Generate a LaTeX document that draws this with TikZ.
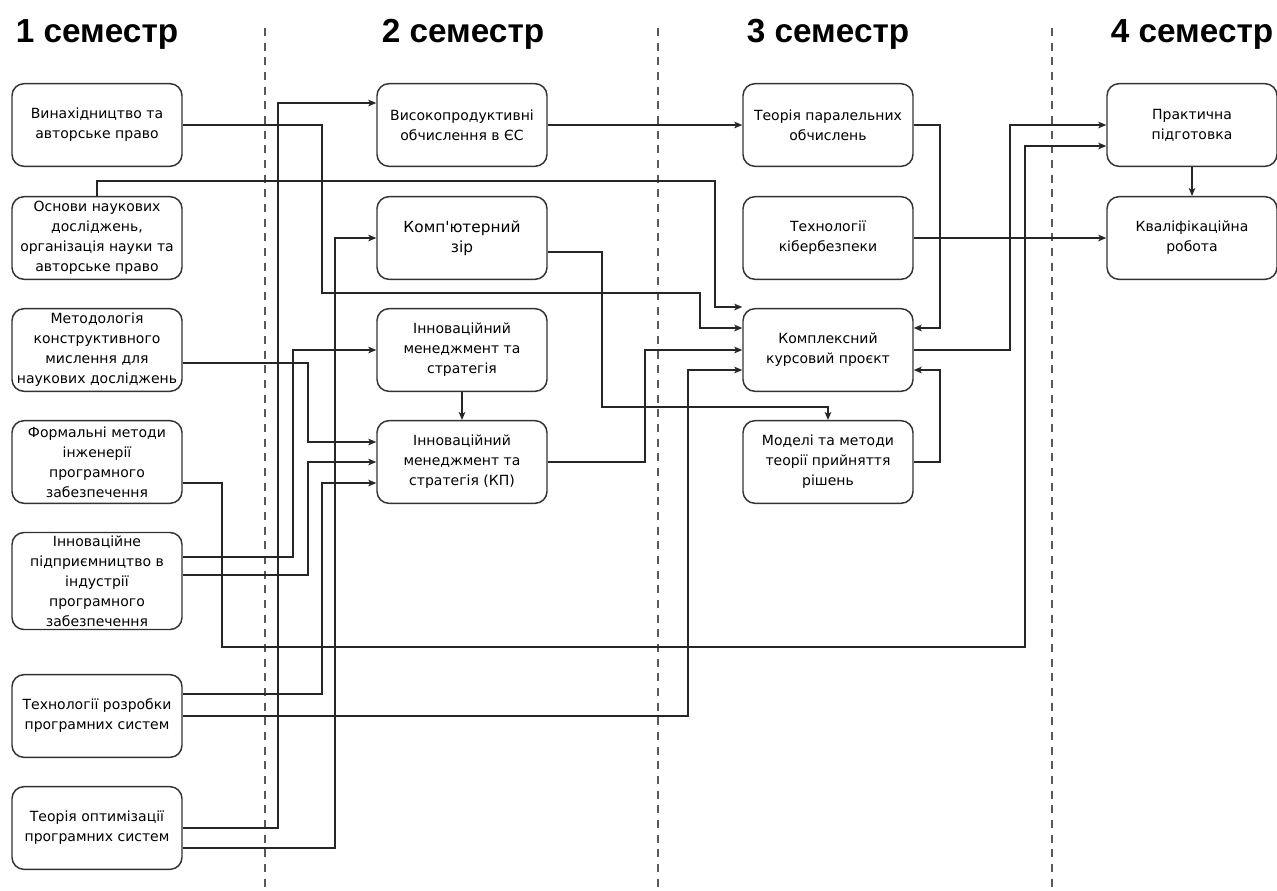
\documentclass[tikz,border=0pt]{standalone}
\usepackage{fontspec}
\setmainfont{Liberation Sans}
\newfontfamily\boxfont{DejaVu Sans}
\usetikzlibrary{arrows.meta,calc}

\begin{document}
\begin{tikzpicture}[x=0.75pt,y=-0.75pt,
    course/.style={draw=black!80, line width=1.1pt, rounded corners=9pt, fill=white,
      minimum width=127.5pt, minimum height=62pt, inner sep=1pt, align=center,
      font=\boxfont\fontsize{10.5}{15}\selectfont},
    termtitle/.style={font=\fontsize{25}{30}\selectfont\bfseries, anchor=base},
    prereq/.style={draw=black!85, line width=0.9pt, -{Stealth[length=6pt,width=5pt,inset=1.5pt]}},
    divider/.style={draw=black!65, line width=1pt, dash pattern=on 6pt off 5pt}]
\useasboundingbox (0,0) rectangle (1277,890);

% Semester borders
\foreach \x in {265,658,1052}
    \draw[divider] (\x,28) -- (\x,890);

% Titles
\node[termtitle] (t1) at (97,42) {1 семестр};
\node[termtitle] (t2) at (463,42) {2 семестр};
\node[termtitle] (t3) at (828,42) {3 семестр};
\node[termtitle] (t4) at (1192,42) {4 семестр};

% Semester 1
\node[course] (inv) at (97,125) {Винахідництво та\\авторське право};
\node[course] (osn) at (97,238) {Основи наукових\\досліджень,\\організація науки та\\авторське право};
\node[course] (met) at (97,350) {Методологія\\конструктивного\\мислення для\\наукових досліджень};
\node[course] (form) at (97,462) {Формальні методи\\інженерії\\програмного\\забезпечення};
\node[course, minimum height=72.75pt] (pidp) at (97,581) {Інноваційне\\підприємництво в\\індустрії\\програмного\\забезпечення};
\node[course] (trps) at (97,716) {Технології розробки\\програмних систем};
\node[course] (topt) at (97,828) {Теорія оптимізації\\програмних систем};

% Semester 2
\node[course] (hpc) at (462,125) {Високопродуктивні\\обчислення в ЄС};
\node[course, font=\boxfont\fontsize{11.5}{15}\selectfont] (cv) at (462,238) {Комп'ютерний\\зір};
\node[course] (imen) at (462,350) {Інноваційний\\менеджмент та\\стратегія};
\node[course] (imkp) at (462,462) {Інноваційний\\менеджмент та\\стратегія (КП)};

% Semester 3
\node[course] (par) at (828,125) {Теорія паралельних\\обчислень};
\node[course] (cyb) at (828,238) {Технології\\кібербезпеки};
\node[course] (kkp) at (828,350) {Комплексний\\курсовий проєкт};
\node[course] (dec) at (828,462) {Моделі та методи\\теорії прийняття\\рішень};

% Semester 4
\node[course] (prac) at (1192,125) {Практична\\підготовка};
\node[course] (qual) at (1192,238) {Кваліфікаційна\\робота};

% Links into semester 2
\draw[prereq] (topt.east) -| (278,103) -- ($(hpc.west)+(0,-22)$);
\draw[prereq] ($(topt.east)+(0,20)$) -| (335,238) -- (cv.west);
\draw[prereq] ($(pidp.east)+(0,-24)$) -| (293,350) -- (imen.west);
\draw[prereq] ($(met.east)+(0,13)$) -| (308,442) -- ($(imkp.west)+(0,-20)$);
\draw[prereq] ($(pidp.east)+(0,-6)$) -| (308,462) -- (imkp.west);
\draw[prereq] ($(trps.east)+(0,-22)$) -| (322,483) -- ($(imkp.west)+(0,21)$);
\draw[prereq] (imen.south) -- (imkp.north);

% Links into semester 3
\draw[prereq] (hpc.east) -- (par.west);
\draw[prereq] (osn.north) |- (715,181) |- ($(kkp.west)+(0,-43)$);
\draw[prereq] (inv.east) -| (322,293) -| (700,328) -- ($(kkp.west)+(0,-22)$);
\draw[prereq] (imkp.east) -| (645,350) -- (kkp.west);
\draw[prereq] (trps.east) -| (688,370) -- ($(kkp.west)+(0,20)$);
\draw[prereq] ($(cv.east)+(0,14)$) -| (602,407) -| (dec.north);
\draw[prereq] (par.east) -| (940,328) -- ($(kkp.east)+(0,-22)$);
\draw[prereq] (dec.east) -| (940,370) -- ($(kkp.east)+(0,20)$);

% Links into semester 4
\draw[prereq] (kkp.east) -| (1010,125) -- (prac.west);
\draw[prereq] ($(form.east)+(0,21)$) -| (222,647) -| (1025,146) -- ($(prac.west)+(0,21)$);
\draw[prereq] (cyb.east) -- (qual.west);
\draw[prereq] (prac.south) -- (qual.north);
\end{tikzpicture}
\end{document}
